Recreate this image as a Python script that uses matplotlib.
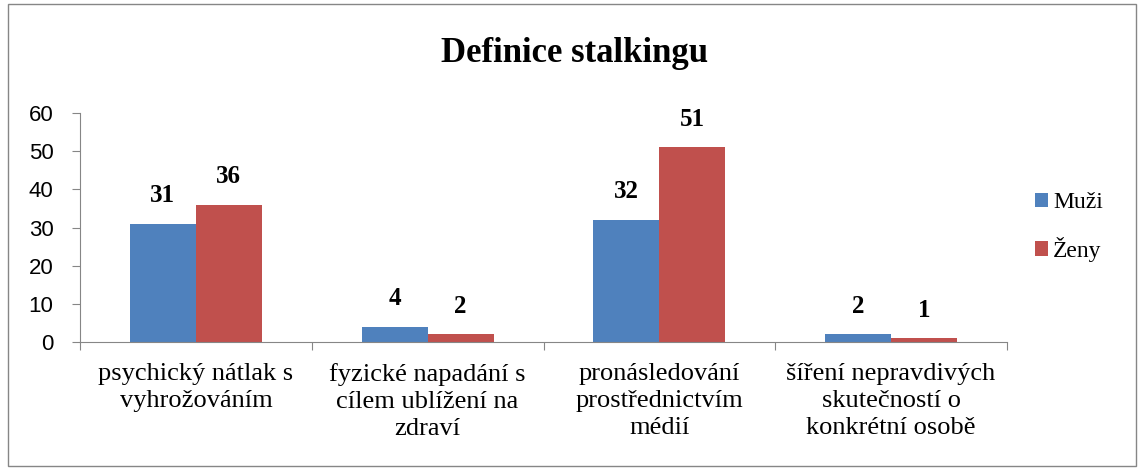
import matplotlib.pyplot as plt
from matplotlib.patches import Rectangle
import numpy as np

categories = ['psychický nátlak s\nvyhrožováním',
              'fyzické napadání s\ncílem ublížení na\nzdraví',
              'pronásledování\nprostřednictvím\nmédií',
              'šíření nepravdivých\nskutečností o\nkonkrétní osobě']
muzi = [31, 4, 32, 2]
zeny = [36, 2, 51, 1]

blue = '#4f81bd'
red = '#c0504d'
serif = 'Liberation Serif'

fig = plt.figure(figsize=(11.42, 4.68), dpi=100)
ax = fig.add_axes([80 / 1142, 1 - 342 / 468, 927 / 1142, 229 / 468])

x = np.arange(len(categories))
w = 0.285
b1 = ax.bar(x - w / 2, muzi, w, color=blue, label='Muži')
b2 = ax.bar(x + w / 2, zeny, w, color=red, label='Ženy')

for bars in (b1, b2):
    for r in bars:
        ax.text(r.get_x() + r.get_width() / 2, r.get_height() + 4.3,
                '%d' % r.get_height(), ha='center', va='bottom',
                fontsize=18, fontweight='bold', family=serif)

ax.set_xlim(-0.5, len(categories) - 0.5)
ax.set_ylim(0, 60)
ax.set_yticks(range(0, 61, 10))
ax.tick_params(axis='y', labelsize=16, length=6, color='#868686', pad=13)
for t in ax.get_yticklabels():
    t.set_family('Liberation Sans')

# category labels and separator ticks
ax.set_xticks(np.arange(-0.5, len(categories), 1.0))
ax.set_xticklabels([])
ax.tick_params(axis='x', length=6, color='#868686')
for i, c in enumerate(categories):
    ax.text(i, -5.4, c, ha='center', va='top', fontsize=19, family=serif,
            linespacing=1.3)

for s in ['top', 'right']:
    ax.spines[s].set_visible(False)
for s in ['left', 'bottom']:
    ax.spines[s].set_color('#868686')

fig.text(0.503, 1 - 53 / 468, 'Definice stalkingu', ha='center', va='center',
         fontsize=25, fontweight='bold', family=serif)

fig.legend(handles=[b1, b2], loc='center left',
           bbox_to_anchor=(1026 / 1142, 1 - 227 / 468), frameon=False,
           prop={'family': serif, 'size': 17}, handlelength=0.55,
           handleheight=0.55, handletextpad=0.2, labelspacing=1.0,
           borderaxespad=0)

fig.patches.append(Rectangle((8 / 1142, 2 / 468), 1128 / 1142, 462 / 468,
                             transform=fig.transFigure, fill=False,
                             edgecolor='#868686', linewidth=1))

fig.savefig('out.png', dpi=100)
